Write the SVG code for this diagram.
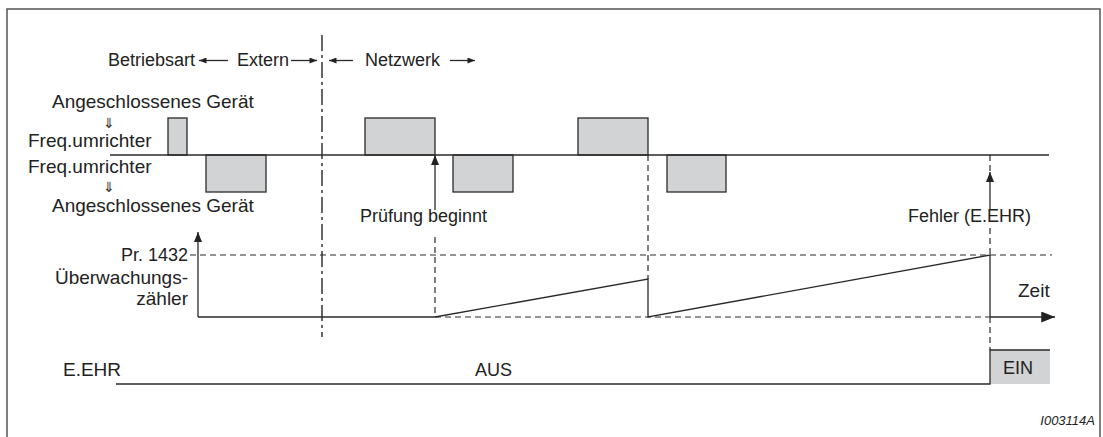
<svg xmlns="http://www.w3.org/2000/svg" width="1103" height="437" viewBox="0 0 1103 437">
<defs>
<style>
text{font-family:"Liberation Sans",Arial,sans-serif;fill:#222;}
.t18{font-size:18px;}
.t19{font-size:19px;}
.dn{font-family:"DejaVu Sans","Liberation Sans",sans-serif;font-size:14px;text-anchor:middle;}
.ln{stroke:#2a2a2a;stroke-width:1.3;fill:none;}
.dash{stroke:#2a2a2a;stroke-width:1.2;fill:none;stroke-dasharray:6 4;}
.dashdot{stroke:#333;stroke-width:1.5;fill:none;stroke-dasharray:16 4 3 4;}
.box{fill:#d1d3d4;stroke:#2a2a2a;stroke-width:1.3;}
</style>
<marker id="ah" viewBox="0 0 10 8" refX="10" refY="4" markerWidth="10" markerHeight="8" markerUnits="userSpaceOnUse" orient="auto">
<path d="M0,0 L10,4 L0,8 z" fill="#222"/>
</marker>
<marker id="ahs" viewBox="0 0 10 8" refX="10" refY="4" markerWidth="8" markerHeight="6" markerUnits="userSpaceOnUse" orient="auto">
<path d="M0,0 L10,4 L0,8 z" fill="#222"/>
</marker>
<marker id="ahb" viewBox="0 0 10 8" refX="10" refY="4" markerWidth="14" markerHeight="11" markerUnits="userSpaceOnUse" orient="auto">
<path d="M0,0 L10,4 L0,8 z" fill="#222"/>
</marker>
</defs>
<rect width="1103" height="437" fill="#fff"/>
<g id="frame">
<path d="M7,437 V9 H1100 V437" fill="none" stroke="#555" stroke-width="1.5"/>
</g>
<g id="mode-labels">
<text class="t18" x="108" y="66">Betriebsart</text>
<text class="t18" x="237" y="66">Extern</text>
<text class="t18" x="365" y="66">Netzwerk</text>
</g>
<g id="signal-labels">
<text class="t19" x="52" y="108">Angeschlossenes Gerät</text>
<text class="dn" x="109" y="128">⇓</text>
<text class="t19" x="28" y="147">Freq.umrichter</text>
<text class="t19" x="28" y="173">Freq.umrichter</text>
<text class="dn" x="109" y="192">⇓</text>
<text class="t19" x="52" y="212">Angeschlossenes Gerät</text>
</g>
<g id="pulses">
<rect class="box" x="168" y="118" width="19" height="37"/>
<rect class="box" x="206" y="155" width="60" height="37"/>
<rect class="box" x="365" y="118" width="70" height="37"/>
<rect class="box" x="453" y="155" width="60" height="37"/>
<rect class="box" x="578" y="118" width="70" height="37"/>
<rect class="box" x="667" y="155" width="59" height="37"/>
</g>
<g id="events">
<text class="t18" x="360" y="222">Prüfung beginnt</text>
<text class="t18" x="908" y="222">Fehler (E.EHR)</text>
</g>
<g id="counter-labels">
<text class="t18" x="188" y="261" text-anchor="end">Pr. 1432</text>
<text class="t19" x="188" y="284" text-anchor="end">Überwachungs-</text>
<text class="t19" x="188" y="305" text-anchor="end">zähler</text>
<text class="t19" x="1018" y="297">Zeit</text>
</g>
<g id="eehr">
<text class="t19" x="63" y="376">E.EHR</text>
<text class="t18" x="475" y="376">AUS</text>
<rect x="990" y="350" width="60" height="34" fill="#d1d3d4"/>
<text class="t18" x="1003" y="374">EIN</text>
<polyline class="ln" points="116,384 990,384 990,350 1050,350"/>
</g>
<g id="connectors">
<line class="ln" x1="228" y1="60.5" x2="199" y2="60.5" marker-end="url(#ahs)" stroke-width="1.1"/>
<line class="ln" x1="291" y1="60.5" x2="317" y2="60.5" marker-end="url(#ahs)" stroke-width="1.1"/>
<line class="ln" x1="353" y1="60.5" x2="329" y2="60.5" marker-end="url(#ahs)" stroke-width="1.1"/>
<line class="ln" x1="450" y1="60.5" x2="475" y2="60.5" marker-end="url(#ahs)" stroke-width="1.1"/>
<line class="dashdot" x1="322" y1="35" x2="322" y2="337"/>
<line class="ln" x1="110" y1="155" x2="1049" y2="155"/>
<line class="ln" x1="435" y1="210" x2="435" y2="155" marker-end="url(#ah)"/>
<line class="dash" x1="990" y1="155" x2="990" y2="172"/>
<line class="ln" x1="990" y1="210" x2="990" y2="172" marker-end="url(#ah)"/>
<line class="ln" x1="198" y1="317" x2="198" y2="232" marker-end="url(#ah)"/>
<line class="dash" x1="190" y1="255" x2="1052" y2="255"/>
<line class="dash" x1="435" y1="317" x2="990" y2="317"/>
<line class="dash" x1="435" y1="237" x2="435" y2="317"/>
<line class="dash" x1="648" y1="155" x2="648" y2="279"/>
<line class="dash" x1="990" y1="228" x2="990" y2="255"/>
<line class="dash" x1="990" y1="317" x2="990" y2="350"/>
<polyline class="ln" points="198,317 435,317 648,279 648,317 990,255 990,317"/>
<line class="ln" x1="990" y1="317" x2="1055" y2="317" marker-end="url(#ahb)"/>
</g>
<text x="1095" y="425" font-size="13" font-style="italic" text-anchor="end">I003114A</text>
</svg>
